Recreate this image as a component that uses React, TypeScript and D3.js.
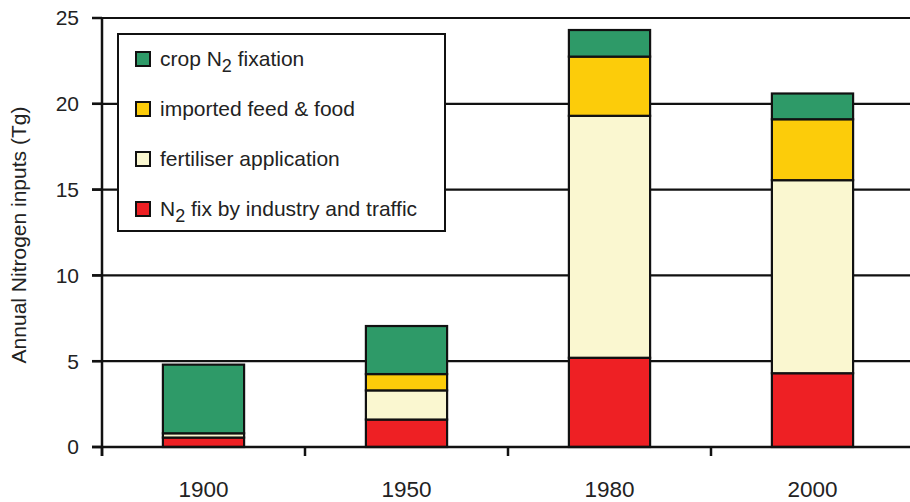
import * as d3 from 'd3';
import { useRef, useEffect } from 'react';

const years = ['1900', '1950', '1980', '2000'];
const industry = [0.55, 1.6, 5.2, 4.3];
const fertiliser = [0.25, 1.7, 14.1, 11.25];
const imported = [0, 0.95, 3.45, 3.55];
const cropFix = [4.0, 2.8, 1.55, 1.5];
const yTicks = [0, 5, 10, 15, 20, 25];

const seriesKeys = ['industry', 'fertiliser', 'imported', 'crop'];
const seriesColors = ['#ee2024', '#faf7d0', '#fccc0a', '#2e9a68'];

const W = 910;
const H = 502;
const FONT = '"Liberation Sans", Arial, sans-serif';

export default function App() {
  const svgRef = useRef<SVGSVGElement>(null);

  useEffect(() => {
    const svg = d3.select(svgRef.current);
    svg.selectAll('*').remove();

    const rows = years.map((y, i) => ({
      year: y,
      industry: industry[i],
      fertiliser: fertiliser[i],
      imported: imported[i],
      crop: cropFix[i],
    }));

    const x = d3.scaleBand().domain(years).range([102, 914]).paddingInner(0.6).paddingOuter(0.3);
    const y = d3.scaleLinear().domain([0, 25]).range([447, 18]);

    const stacked = d3.stack<any>().keys(seriesKeys)(rows);

    // gridlines
    svg.append('g')
      .selectAll('line')
      .data(yTicks.filter(t => t > 0))
      .join('line')
      .attr('x1', 92)
      .attr('x2', W)
      .attr('y1', d => y(d))
      .attr('y2', d => y(d))
      .attr('stroke', '#111')
      .attr('stroke-width', 2.2);

    // bars
    stacked.forEach((s, si) => {
      svg.append('g')
        .selectAll('rect')
        .data(s.filter(d => d[1] - d[0] > 0))
        .join('rect')
        .attr('x', d => x(d.data.year)!)
        .attr('width', x.bandwidth())
        .attr('y', d => y(d[1]))
        .attr('height', d => y(d[0]) - y(d[1]))
        .attr('fill', seriesColors[si])
        .attr('stroke', '#111')
        .attr('stroke-width', 2.2);
    });

    // y axis
    svg.append('line')
      .attr('x1', 102).attr('x2', 102)
      .attr('y1', y(25)).attr('y2', y(0) + 9)
      .attr('stroke', '#111').attr('stroke-width', 2.5);
    svg.append('g')
      .selectAll('line')
      .data(yTicks)
      .join('line')
      .attr('x1', 92).attr('x2', 102)
      .attr('y1', d => y(d)).attr('y2', d => y(d))
      .attr('stroke', '#111').attr('stroke-width', 2.5);
    svg.append('g')
      .selectAll('text')
      .data(yTicks)
      .join('text')
      .attr('x', 79)
      .attr('y', d => y(d))
      .attr('dy', '0.35em')
      .attr('text-anchor', 'end')
      .style('font-family', FONT)
      .style('font-size', '21px')
      .style('fill', '#222')
      .text(d => d);

    // x axis
    svg.append('line')
      .attr('x1', 92).attr('x2', W)
      .attr('y1', y(0)).attr('y2', y(0))
      .attr('stroke', '#111').attr('stroke-width', 2.5);
    const step = x.step();
    svg.append('g')
      .selectAll('line')
      .data(years)
      .join('line')
      .attr('x1', d => x(d)! - step * 0.3)
      .attr('x2', d => x(d)! - step * 0.3)
      .attr('y1', y(0)).attr('y2', y(0) + 9)
      .attr('stroke', '#111').attr('stroke-width', 2.5);
    svg.append('g')
      .selectAll('text')
      .data(years)
      .join('text')
      .attr('x', d => x(d)! + x.bandwidth() / 2)
      .attr('y', 497)
      .attr('text-anchor', 'middle')
      .style('font-family', FONT)
      .style('font-size', '22.5px')
      .style('fill', '#222')
      .text(d => d);

    // y title
    svg.append('text')
      .attr('transform', 'translate(26,235) rotate(-90)')
      .attr('text-anchor', 'middle')
      .style('font-family', FONT)
      .style('font-size', '21px')
      .style('fill', '#222')
      .text('Annual Nitrogen inputs (Tg)');

    // legend
    const lg = svg.append('g');
    lg.append('rect')
      .attr('x', 118).attr('y', 34)
      .attr('width', 327).attr('height', 197)
      .attr('fill', '#fff')
      .attr('stroke', '#111').attr('stroke-width', 2);

    const legendItems = [
      { color: seriesColors[3], parts: [['crop N', false], ['2', true], [' fixation', false]] },
      { color: seriesColors[2], parts: [['imported feed & food', false]] },
      { color: seriesColors[1], parts: [['fertiliser application', false]] },
      { color: seriesColors[0], parts: [['N', false], ['2', true], [' fix by industry and traffic', false]] },
    ];
    legendItems.forEach((it, i) => {
      const cy = 59 + i * 50;
      lg.append('rect')
        .attr('x', 136).attr('y', cy - 7)
        .attr('width', 14).attr('height', 14)
        .attr('fill', it.color)
        .attr('stroke', '#111').attr('stroke-width', 2);
      const t = lg.append('text')
        .attr('x', 160).attr('y', cy + 7)
        .style('font-family', FONT)
        .style('font-size', '21px')
        .style('fill', '#222');
      it.parts.forEach(([s, sub]) => {
        const ts = t.append('tspan').text(s as string);
        if (sub) ts.attr('dy', 6).style('font-size', '18px');
        else if (t.selectAll('tspan').size() > 1) ts.attr('dy', -6);
      });
    });
  }, []);

  return (
    <svg ref={svgRef} width={W} height={H} style={{ position: 'absolute', left: 0, top: 0, background: '#fff' }} />
  );
}
